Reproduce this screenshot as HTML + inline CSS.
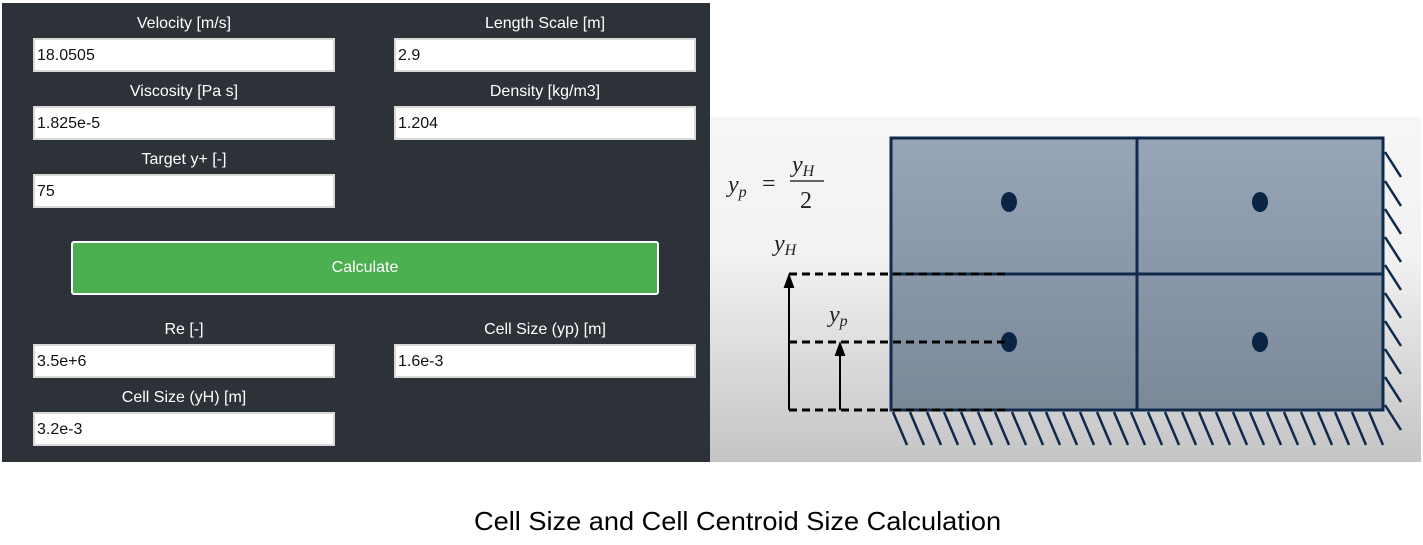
<!DOCTYPE html>
<html><head><style>
body{margin:0;width:1423px;height:545px;background:#fff;position:relative;overflow:hidden;font-family:"Liberation Sans",sans-serif}
#p{position:absolute;left:2px;top:3px;width:708px;height:459px;background:#2c3237}
.l{position:absolute;color:#fff;font-size:16px;text-align:center;width:300px}
.i{position:absolute;background:#fff;width:296px;height:30px;border:2px solid #d8d8d8;box-sizing:content-box;font-size:16px;line-height:31px;padding-left:2px;color:#111}
#b{position:absolute;left:71px;top:241px;width:584px;height:50px;background:#4caf50;border:2px solid #fff;border-radius:3px;color:#fff;font-size:16px;text-align:center;line-height:50px}
#cap{position:absolute;left:474px;width:526px;top:506px;font-size:26px;color:#000;white-space:nowrap;transform-origin:0 0;transform:scaleX(1.045)}
</style></head><body>
<div id="p"></div>
<div class="l" style="left:34px;top:15px">Velocity [m/s]</div>
<div class="l" style="left:395px;top:15px">Length Scale [m]</div>
<div class="i" style="left:33px;top:38px">18.0505</div>
<div class="i" style="left:394px;top:38px">2.9</div>
<div class="l" style="left:34px;top:83px">Viscosity [Pa s]</div>
<div class="l" style="left:395px;top:83px">Density [kg/m3]</div>
<div class="i" style="left:33px;top:106px">1.825e-5</div>
<div class="i" style="left:394px;top:106px">1.204</div>
<div class="l" style="left:34px;top:151px">Target y+ [-]</div>
<div class="i" style="left:33px;top:174px">75</div>
<div id="b">Calculate</div>
<div class="l" style="left:34px;top:321px">Re [-]</div>
<div class="l" style="left:395px;top:321px">Cell Size (yp) [m]</div>
<div class="i" style="left:33px;top:344px">3.5e+6</div>
<div class="i" style="left:394px;top:344px">1.6e-3</div>
<div class="l" style="left:34px;top:389px">Cell Size (yH) [m]</div>
<div class="i" style="left:33px;top:412px">3.2e-3</div>
<svg style="position:absolute;left:0;top:0" width="1423" height="545">
<defs>
<linearGradient id="bg" x1="0" y1="0" x2="0" y2="1"><stop offset="0" stop-color="#f6f6f6"/><stop offset="0.4" stop-color="#f2f2f2"/><stop offset="1" stop-color="#c4c4c4"/></linearGradient>
<linearGradient id="cg" x1="0" y1="0" x2="0" y2="1"><stop offset="0" stop-color="#97a6b7"/><stop offset="1" stop-color="#7a8898"/></linearGradient>
</defs>
<rect x="710" y="117" width="711" height="345" fill="url(#bg)"/>
<rect x="891" y="138" width="492" height="272" fill="url(#cg)" stroke="#0f2a4a" stroke-width="3"/>
<line x1="1137" y1="138" x2="1137" y2="410" stroke="#0f2a4a" stroke-width="3"/>
<line x1="891" y1="274" x2="1383" y2="274" stroke="#0f2a4a" stroke-width="3"/>
<g fill="#0a2444"><ellipse cx="1009" cy="202" rx="8" ry="10"/><ellipse cx="1260" cy="202" rx="8" ry="10"/><ellipse cx="1009" cy="342" rx="8" ry="10"/><ellipse cx="1260" cy="342" rx="8" ry="10"/></g>
<g stroke="#0f2a4a" stroke-width="2.5">
<path d="M893 412l14 33M910 412l14 33M927 412l14 33M944 412l14 33M961 412l14 33M978 412l14 33M995 412l14 33M1012 412l14 33M1029 412l14 33M1046 412l14 33M1063 412l14 33M1080 412l14 33M1097 412l14 33M1114 412l14 33M1131 412l14 33M1148 412l14 33M1165 412l14 33M1182 412l14 33M1199 412l14 33M1216 412l14 33M1233 412l14 33M1250 412l14 33M1267 412l14 33M1284 412l14 33M1301 412l14 33M1318 412l14 33M1335 412l14 33M1352 412l14 33M1369 412l14 33"/>
<path d="M1385 152l16 25M1385 181l16 25M1385 209l16 25M1385 237l16 25M1385 265l16 25M1385 293l16 25M1385 321l16 25M1385 349l16 25M1385 377l16 25M1385 405l16 25"/>
</g>
<g stroke="#000" stroke-width="3" stroke-dasharray="8,5" fill="none">
<line x1="789" y1="274" x2="1010" y2="274"/>
<line x1="789" y1="342" x2="1010" y2="342"/>
<line x1="789" y1="410" x2="1010" y2="410"/>
</g>
<g stroke="#000" stroke-width="2" fill="#000">
<line x1="789" y1="410" x2="789" y2="284"/><path d="M789 276l-4 11h8z"/>
<line x1="840" y1="410" x2="840" y2="352"/><path d="M840 344l-4 11h8z"/>
</g>
<g font-family="Liberation Serif,serif" font-style="italic" fill="#222">
<text x="728" y="192" font-size="24">y<tspan font-size="16" dy="5">p</tspan></text>
<text x="762" y="191" font-size="24" font-style="normal">=</text>
<text x="792" y="172" font-size="24">y<tspan font-size="16" dy="4">H</tspan></text>
<line x1="790" y1="181" x2="824" y2="181" stroke="#333" stroke-width="1.5"/>
<text x="800" y="208" font-size="24" font-style="normal">2</text>
<text x="774" y="251" font-size="24">y<tspan font-size="16" dy="4">H</tspan></text>
<text x="829" y="322" font-size="24">y<tspan font-size="16" dy="4">p</tspan></text>
</g>
</svg>
<div id="cap">Cell Size and Cell Centroid Size Calculation</div>
</body></html>
